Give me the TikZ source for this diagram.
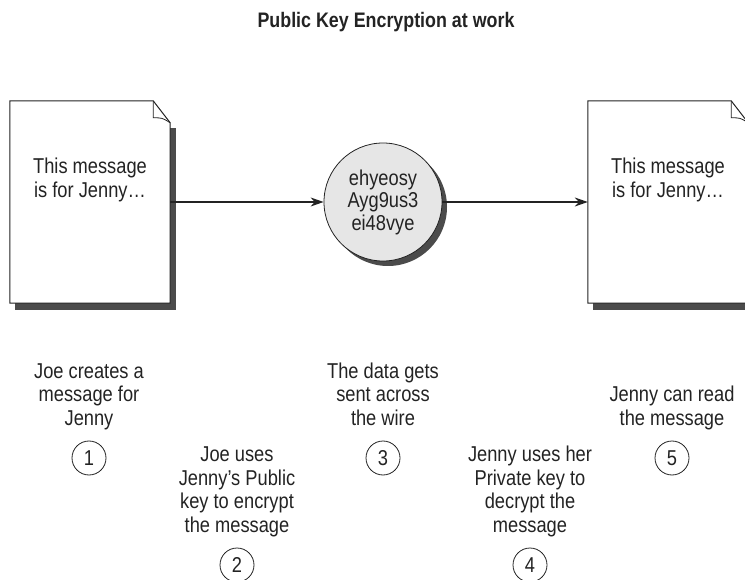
\documentclass[tikz,border=0pt]{standalone}
\usepackage{fontspec}
\setmainfont{Liberation Sans}[FakeStretch=0.85]
\usetikzlibrary{positioning,arrows.meta,shadows}
\definecolor{inkgray}{RGB}{35,35,35}
\definecolor{shadowgray}{RGB}{75,75,75}
\definecolor{cipherfill}{RGB}{230,230,230}

\begin{document}
\begin{tikzpicture}[x=1pt, y=-1pt,
      page/.style={minimum width=160pt, minimum height=202pt, inner sep=0pt},
      pagetxt/.style={font=\fontsize{21.5}{24}\selectfont, align=center,
                      text=inkgray, inner sep=0pt},
      heading/.style={font=\bfseries\fontsize{21}{24}\selectfont, text=inkgray},
      cipher/.style={circle, draw=inkgray, line width=0.8pt, fill=cipherfill,
                     minimum size=118pt, inner sep=0pt, align=center,
                     font=\fontsize{21.5}{22.5}\selectfont, text=inkgray,
                     drop shadow={shadow xshift=5pt, shadow yshift=-5pt,
                                  fill=shadowgray, opacity=1}},
      stepnum/.style={circle, draw=inkgray, line width=0.8pt, minimum size=34pt,
                      inner sep=0pt, font=\fontsize{21.5}{24}\selectfont, text=inkgray},
      steptxt/.style={font=\fontsize{21.5}{23.5}\selectfont, align=center,
                      inner sep=0pt, text=inkgray, execute at end node=\strut},
      wire/.style={draw=inkgray, line width=1.2pt, -{Stealth[length=13pt,width=9pt]}},
    ]
    \clip (0,0) rectangle (745,580);

    \node[heading] (title) at (386,22) {Public Key Encryption at work};

    %% the two sheets
    \node[page] (pageL) at (90,202) {};
    \node[page] (pageR) at (668,202) {};
    \foreach \p in {pageL,pageR}{
        %% shadow along bottom and right edge
        \fill[shadowgray] ([xshift=5pt,yshift=-7pt]\p.south west)
          rectangle ([xshift=6pt]\p.south east);
        \fill[shadowgray] ([yshift=-27pt]\p.north east)
          rectangle ([xshift=6pt,yshift=-7pt]\p.south east);
        %% sheet with dog-ear
        \draw[inkgray, line width=1pt, fill=white]
          (\p.south west) -- (\p.north west) -- ([xshift=-17pt]\p.north east)
          -- ([yshift=-22pt]\p.north east) -- (\p.south east) -- cycle;
        \draw[inkgray, line width=0.8pt]
          ([xshift=-17pt]\p.north east) -- ([xshift=-17pt,yshift=-17pt]\p.north east)
          .. controls ([xshift=-8pt,yshift=-17pt]\p.north east) .. ([yshift=-22pt]\p.north east);
        \node[pagetxt] (\p-txt) at ([yshift=22pt]\p.center) {This message\\is for Jenny…};
      }

    %% scrambled text on the wire
    \node[cipher] (cipherball) at (383,202) {ehyeosy\\Ayg9us3\\ei48vye};

    \draw[wire] (pageL.east) -- (cipherball.west);
    \draw[wire] (cipherball.east) -- (pageR.west);

    %% numbered steps
    \node[stepnum] (s1) at (89,458) {1};
    \node[stepnum] (s2) at (237,565) {2};
    \node[stepnum] (s3) at (383,458) {3};
    \node[stepnum] (s4) at (530,565) {4};
    \node[stepnum] (s5) at (672,458) {5};

    \node[steptxt, above=8pt of s1] (t1) {Joe creates a\\message for\\Jenny};
    \node[steptxt, above=8pt of s2] (t2) {Joe uses\\Jenny's Public\\key to encrypt\\the message};
    \node[steptxt, above=8pt of s3] (t3) {The data gets\\sent across\\the wire};
    \node[steptxt, above=8pt of s4] (t4) {Jenny uses her\\Private key to\\decrypt the\\message};
    \node[steptxt, above=8pt of s5] (t5) {Jenny can read\\the message};
\end{tikzpicture}
\end{document}
